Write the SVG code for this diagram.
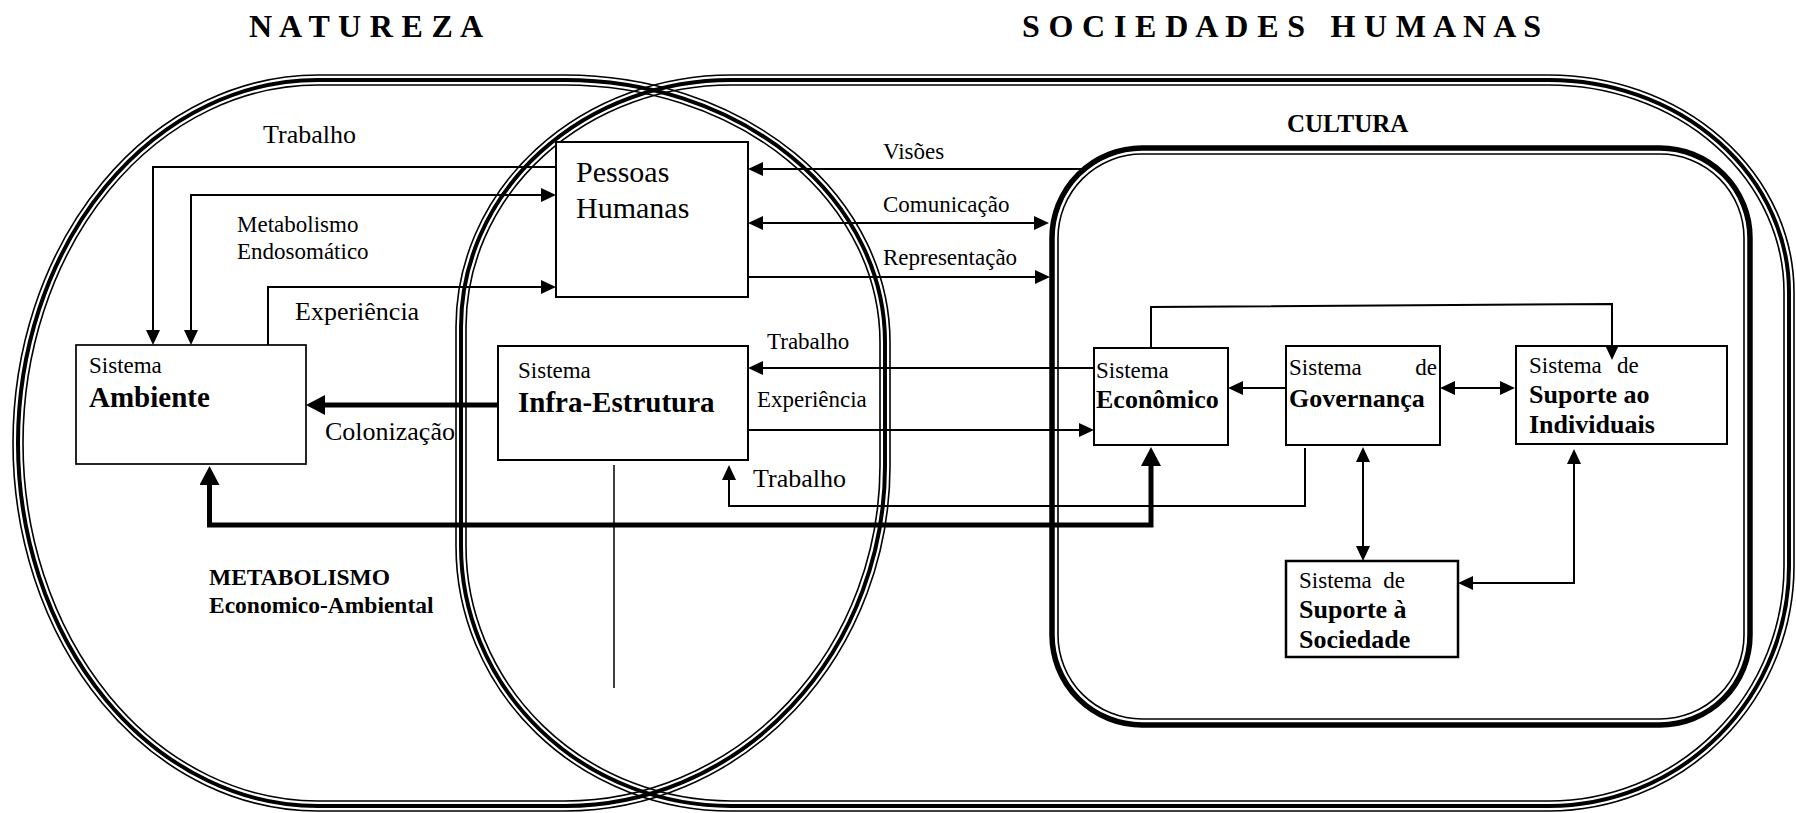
<svg xmlns="http://www.w3.org/2000/svg" width="1796" height="813" viewBox="0 0 1796 813" font-family="Liberation Serif, Times New Roman, DejaVu Serif, serif">
<style>
text{font-family:'Liberation Serif','Times New Roman','DejaVu Serif',serif;fill:#000}
.b{font-weight:bold}
.title{font-size:32px;font-weight:bold}
.f30{font-size:30px}
.f29{font-size:29px;font-weight:bold}
.f26{font-size:26px}
.f23{font-size:23px}
.bthin{fill:none;stroke:#000;stroke-width:1.6}
.bthick{fill:none;stroke:#000;stroke-width:4}
.box{fill:#fff;stroke:#000;stroke-width:2}
.ln{fill:none;stroke:#000;stroke-width:2}
.tk{fill:none;stroke:#000;stroke-width:5}
</style>
<defs>
<marker id="ah" markerUnits="userSpaceOnUse" viewBox="0 0 15 14" markerWidth="15" markerHeight="14" refX="11" refY="7" orient="auto-start-reverse"><path d="M0,0 L15,7 L0,14 Z" fill="#000"/></marker>
<marker id="ahk" markerUnits="userSpaceOnUse" viewBox="0 0 19 20" markerWidth="19" markerHeight="20" refX="10" refY="10" orient="auto-start-reverse"><path d="M0,0 L19,10 L0,20 Z" fill="#000"/></marker>
</defs>
<rect width="1796" height="813" fill="#fff"/>

<g id="natureza">
<path class="bthin" d="M318,75 H565 A325,267 0 0 1 890,342 V466 A325,345 0 0 1 565,811 H318 A305,368 0 0 1 13,443 A305,368 0 0 1 318,75 Z"/>
<path class="bthick" d="M318,80 H565 A320,262 0 0 1 885,342 V466 A320,340 0 0 1 565,806 H318 A300,363 0 0 1 18,443 A300,363 0 0 1 318,80 Z"/>
<path class="bthin" d="M318,85 H565 A315,257 0 0 1 880,342 V466 A315,335 0 0 1 565,801 H318 A295,358 0 0 1 23,443 A295,358 0 0 1 318,85 Z"/>
<text class="title" x="249" y="37" textLength="234" lengthAdjust="spacing">N A T U R E Z A</text>
</g>

<g id="sociedades-humanas">
<path class="bthin" d="M731,75 H1549 A245,217 0 0 1 1794,292 V566 A245,245 0 0 1 1549,811 H731 A275,265 0 0 1 456,546 V327 A275,252 0 0 1 731,75 Z"/>
<path class="bthick" d="M731,80 H1549 A240,212 0 0 1 1789,292 V566 A240,240 0 0 1 1549,806 H731 A270,260 0 0 1 461,546 V327 A270,247 0 0 1 731,80 Z"/>
<path class="bthin" d="M731,85 H1549 A235,207 0 0 1 1784,292 V566 A235,235 0 0 1 1549,801 H731 A265,255 0 0 1 466,546 V327 A265,242 0 0 1 731,85 Z"/>
<text class="title" x="1022" y="37" textLength="519" lengthAdjust="spacing" xml:space="preserve">S O C I E D A D E S   H U M A N A S</text>
</g>

<g id="cultura">
<rect x="1052" y="148" width="698" height="577" rx="90" ry="90" fill="none" stroke="#000" stroke-width="5.5"/>
<rect x="1058" y="154" width="686" height="565" rx="84" ry="84" fill="none" stroke="#000" stroke-width="1.6"/>
<text class="b" x="1287" y="132" style="font-size:25px">CULTURA</text>
</g>

<g id="metabolismo-label">
<text class="b" x="209" y="585" style="font-size:23.5px">METABOLISMO</text>
<text class="b" x="209" y="613" style="font-size:23.5px">Economico-Ambiental</text>
</g>

<g id="sistema-ambiente">
<rect x="76" y="345" width="230" height="119" fill="#fff" stroke="#000" stroke-width="1.7"/>
<text class="f23" x="89" y="373">Sistema</text>
<text class="f29" x="89" y="407">Ambiente</text>
</g>

<g id="pessoas-humanas">
<rect class="box" x="556" y="142" width="192" height="155"/>
<text class="f30" x="576" y="182">Pessoas</text>
<text class="f30" x="576" y="218">Humanas</text>
</g>

<g id="sistema-infra-estrutura">
<rect class="box" x="498" y="346" width="250" height="114"/>
<text class="f23" x="518" y="378">Sistema</text>
<text class="f29" x="518" y="412">Infra-Estrutura</text>
</g>

<g id="sistema-economico">
<rect class="box" x="1094" y="348" width="134" height="97"/>
<text class="f23" x="1096" y="378">Sistema</text>
<text class="f26 b" x="1096" y="408">Econômico</text>
</g>

<g id="sistema-governanca">
<rect class="box" x="1286" y="346" width="154" height="99"/>
<text class="f23" x="1289" y="375">Sistema</text>
<text class="f23" x="1437" y="375" text-anchor="end">de</text>
<text class="f26 b" x="1289" y="407">Governança</text>
</g>

<g id="sistema-suporte-individuais">
<rect class="box" x="1516" y="346" width="211" height="98"/>
<text class="f23" x="1529" y="373">Sistema</text>
<text class="f23" x="1617" y="373">de</text>
<text class="f26 b" x="1529" y="403">Suporte ao</text>
<text class="f26 b" x="1529" y="433">Individuais</text>
</g>

<g id="sistema-suporte-sociedade">
<rect x="1286" y="561" width="172" height="96" fill="#fff" stroke="#000" stroke-width="2.5"/>
<text class="f23" x="1299" y="588" xml:space="preserve">Sistema  de</text>
<text class="f26 b" x="1299" y="618">Suporte à</text>
<text class="f26 b" x="1299" y="648">Sociedade</text>
</g>

<g id="connectors">
<path class="ln" d="M556,167 H153 V341" marker-end="url(#ah)"/>
<path class="ln" d="M191,341 V195 H552" marker-start="url(#ah)" marker-end="url(#ah)"/>
<path class="ln" d="M268,345 V287 H552" marker-end="url(#ah)"/>
<path class="tk" d="M498,405 H315" marker-end="url(#ahk)"/>
<path class="ln" d="M1082,169 H752" marker-end="url(#ah)"/>
<path class="ln" d="M752,223 H1045" marker-start="url(#ah)" marker-end="url(#ah)"/>
<path class="ln" d="M748,277 H1046" marker-end="url(#ah)"/>
<path class="ln" d="M1094,368 H752" marker-end="url(#ah)"/>
<path class="ln" d="M748,430 H1090" marker-end="url(#ah)"/>
<path class="ln" d="M1305,448 V506 H729 V469" marker-end="url(#ah)"/>
<path class="tk" d="M209.5,475 V525 H1151 V456" marker-start="url(#ahk)" marker-end="url(#ahk)"/>
<path class="ln" d="M1286,388 H1232" marker-end="url(#ah)"/>
<path class="ln" d="M1444,388 H1511" marker-start="url(#ah)" marker-end="url(#ah)"/>
<path class="ln" d="M1151,348 V307 L1612,304 V356" marker-end="url(#ah)"/>
<path class="ln" d="M1363,451 V557" marker-start="url(#ah)" marker-end="url(#ah)"/>
<path class="ln" d="M1574,453 V583 H1462" marker-start="url(#ah)" marker-end="url(#ah)"/>
<path fill="none" stroke="#000" stroke-width="1.5" d="M614,465 V688"/>
</g>

<g id="connector-labels">
<text class="f26" x="263" y="143">Trabalho</text>
<text class="f23" x="237" y="232">Metabolismo</text>
<text class="f23" x="237" y="259">Endosomático</text>
<text class="f26" x="295" y="320">Experiência</text>
<text class="f26" x="325" y="440">Colonização</text>
<text class="f23" x="883" y="159">Visões</text>
<text class="f23" x="883" y="212">Comunicação</text>
<text class="f23" x="883" y="265">Representação</text>
<text class="f23" x="767" y="349">Trabalho</text>
<text class="f23" x="757" y="407">Experiência</text>
<text class="f26" x="753" y="487">Trabalho</text>
</g>
</svg>
